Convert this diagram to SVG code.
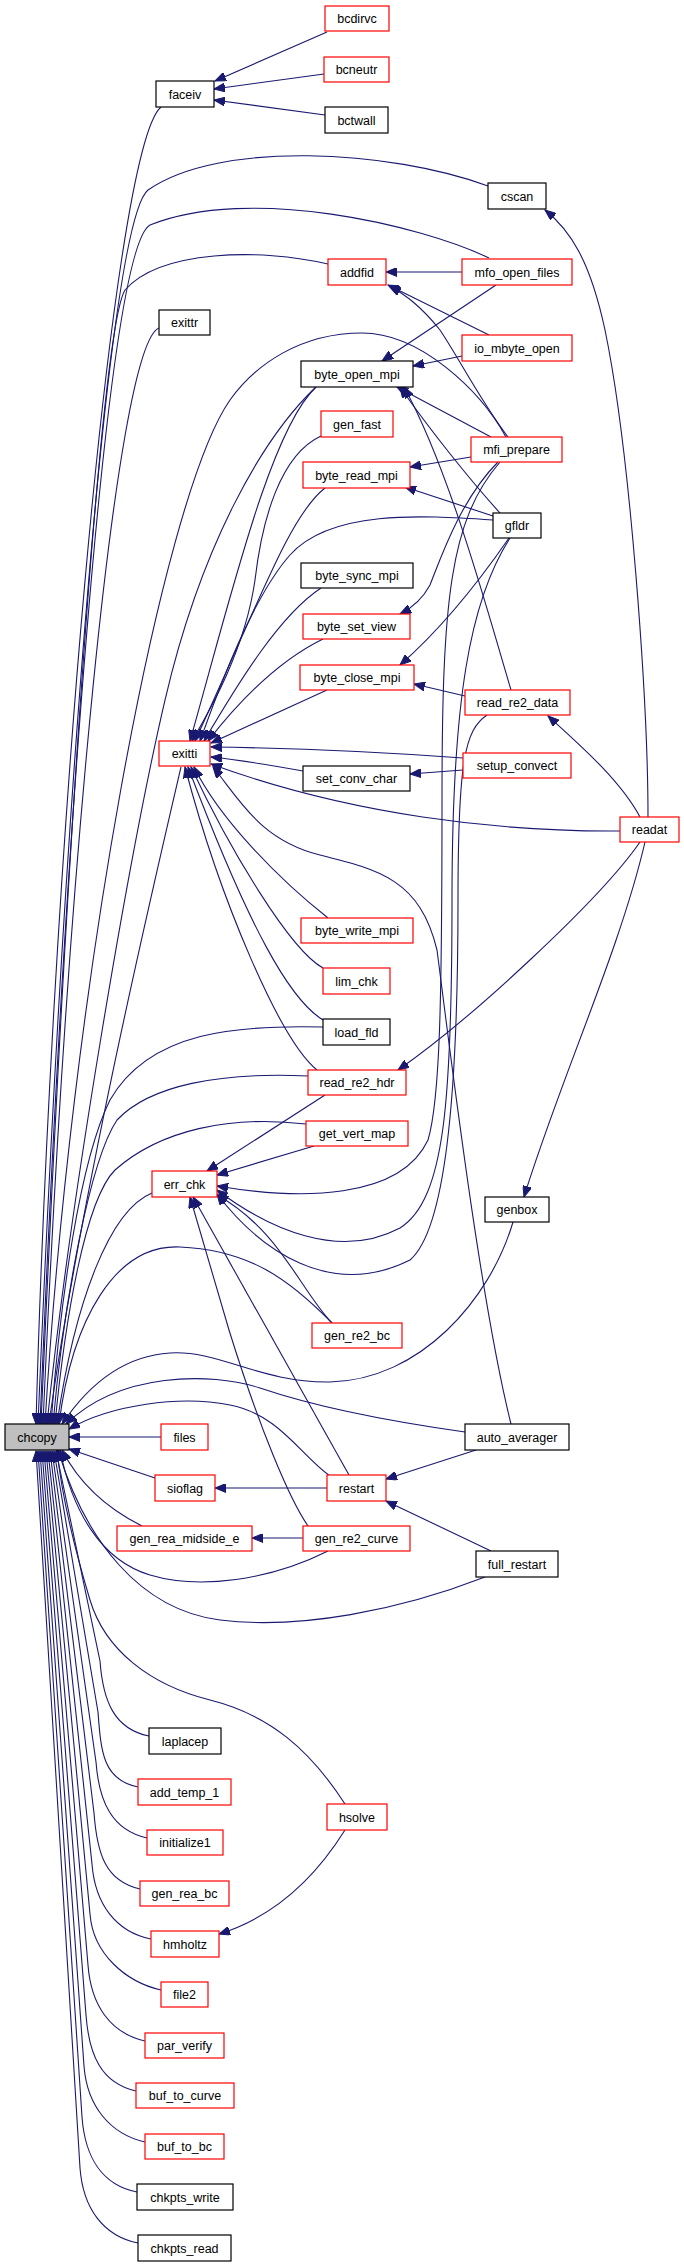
<svg xmlns="http://www.w3.org/2000/svg" width="684" height="2267" viewBox="0 0 684 2267">
<style>
.e{fill:none;stroke:#191970;stroke-width:1.1}
.r{fill:#fff;stroke:#ff0000;stroke-width:1.2}
.k{fill:#fff;stroke:#000;stroke-width:1.2}
.g{fill:#bfbfbf;stroke:#000;stroke-width:1.2}
text{font-family:"Liberation Sans",Arial,sans-serif;font-size:12.5px;fill:#000;text-anchor:middle}
</style>
<defs>
<marker id="ah" markerWidth="12" markerHeight="9" refX="11" refY="4.5" orient="auto" markerUnits="userSpaceOnUse"><path d="M0,0 L11,4.5 L0,9 z" fill="#191970" stroke="#191970"/></marker>
</defs>
<rect width="684" height="2267" fill="#fff"/>
<g id="edges" marker-end="url(#ah)">
<path class="e" marker-end="url(#ah)" d="M327,32 L215,81"/>
<path class="e" marker-end="url(#ah)" d="M324,74 L214,89"/>
<path class="e" marker-end="url(#ah)" d="M325,115 L214,100"/>
<path class="e" marker-end="url(#ah)" d="M161,107 C110,150 50,900 36,1424"/>
<path class="e" marker-end="url(#ah)" d="M488,186 C390,150 220,140 148,190 C105,225 60,900 38,1424"/>
<path class="e" marker-end="url(#ah)" d="M648,817 C648,700 630,450 605,330 C590,260 570,230 545,210"/>
<path class="e" marker-end="url(#ah)" d="M489,258 C420,225 250,185 150,225 C105,250 62,900 40,1424"/>
<path class="e" marker-end="url(#ah)" d="M462,272 L386,272"/>
<path class="e" marker-end="url(#ah)" d="M328,264 C260,248 160,250 125,290 C100,330 64,900 41,1424"/>
<path class="e" marker-end="url(#ah)" d="M496,285 L382,361"/>
<path class="e" marker-end="url(#ah)" d="M489,335 L388,285"/>
<path class="e" marker-end="url(#ah)" d="M508,437 C480,400 460,360 440,330 C420,305 405,295 390,286"/>
<path class="e" marker-end="url(#ah)" d="M159,328 C115,345 66,900 43,1424"/>
<path class="e" marker-end="url(#ah)" d="M462,356 L413,366"/>
<path class="e" marker-end="url(#ah)" d="M506,437 C480,390 420,333 362,333 C300,333 255,365 230,400 C160,500 70,1000 45,1424"/>
<path class="e" marker-end="url(#ah)" d="M316,387 C260,440 200,550 165,700 C130,850 70,1200 47,1424"/>
<path class="e" marker-end="url(#ah)" d="M316,387 C270,430 230,600 190,741"/>
<path class="e" marker-end="url(#ah)" d="M491,437 L397,387"/>
<path class="e" marker-end="url(#ah)" d="M500,513 C470,480 430,430 400,387"/>
<path class="e" marker-end="url(#ah)" d="M511,690 C490,620 450,470 404,387"/>
<path class="e" marker-end="url(#ah)" d="M471,457 L410,467"/>
<path class="e" marker-end="url(#ah)" d="M493,516 L405,487"/>
<path class="e" marker-end="url(#ah)" d="M321,436 C280,455 262,520 255,580 C245,650 210,710 192,741"/>
<path class="e" marker-end="url(#ah)" d="M325,488 C290,515 260,600 195,741"/>
<path class="e" marker-end="url(#ah)" d="M493,520 C420,515 330,510 290,555 C250,600 215,700 200,741"/>
<path class="e" marker-end="url(#ah)" d="M321,588 C280,615 240,680 204,741"/>
<path class="e" marker-end="url(#ah)" d="M323,639 C280,660 240,700 208,741"/>
<path class="e" marker-end="url(#ah)" d="M327,690 L211,743"/>
<path class="e" marker-end="url(#ah)" d="M498,462 C460,500 440,560 430,585 C422,600 412,608 400,614"/>
<path class="e" marker-end="url(#ah)" d="M509,538 C480,580 440,630 400,665"/>
<path class="e" marker-end="url(#ah)" d="M465,696 L414,684"/>
<path class="e" marker-end="url(#ah)" d="M640,817 C620,780 580,745 548,716"/>
<path class="e" marker-end="url(#ah)" d="M463,758 C380,752 290,748 211,747"/>
<path class="e" marker-end="url(#ah)" d="M303,771 C270,765 240,760 211,757"/>
<path class="e" marker-end="url(#ah)" d="M463,770 L410,774"/>
<path class="e" marker-end="url(#ah)" d="M620,831 C500,832 350,815 211,764"/>
<path class="e" marker-end="url(#ah)" d="M328,918 C280,880 220,820 194,767"/>
<path class="e" marker-end="url(#ah)" d="M323,968 C290,950 230,850 191,767"/>
<path class="e" marker-end="url(#ah)" d="M323,1020 C290,1000 250,930 188,767"/>
<path class="e" marker-end="url(#ah)" d="M317,1070 C280,1040 220,900 185,767"/>
<path class="e" marker-end="url(#ah)" d="M181,767 C150,900 80,1200 49,1424"/>
<path class="e" marker-end="url(#ah)" d="M511,1424 C480,1300 450,1050 437,950 C420,880 380,870 320,855 C260,840 240,800 213,767"/>
<path class="e" marker-end="url(#ah)" d="M640,842 C600,900 470,1020 398,1070"/>
<path class="e" marker-end="url(#ah)" d="M645,842 C620,950 560,1080 524,1197"/>
<path class="e" marker-end="url(#ah)" d="M323,1027 C240,1025 150,1030 110,1100 C80,1160 60,1300 51,1424"/>
<path class="e" marker-end="url(#ah)" d="M308,1076 C220,1072 150,1085 117,1120 C90,1160 64,1300 53,1424"/>
<path class="e" marker-end="url(#ah)" d="M306,1124 C230,1115 160,1130 115,1170 C85,1200 65,1320 55,1424"/>
<path class="e" marker-end="url(#ah)" d="M325,1095 L207,1171"/>
<path class="e" marker-end="url(#ah)" d="M314,1146 L217,1175"/>
<path class="e" marker-end="url(#ah)" d="M332,1323 C300,1290 280,1230 217,1195"/>
<path class="e" marker-end="url(#ah)" d="M349,1475 L193,1197"/>
<path class="e" marker-end="url(#ah)" d="M308,1526 C290,1500 260,1430 229,1330 L190,1197"/>
<path class="e" marker-end="url(#ah)" d="M500,462 C450,520 442,600 442,800 C442,1000 440,1100 428,1140 C400,1200 300,1200 217,1186"/>
<path class="e" marker-end="url(#ah)" d="M510,538 C470,600 452,700 452,900 C452,1100 445,1200 400,1228 C340,1260 270,1230 217,1190"/>
<path class="e" marker-end="url(#ah)" d="M487,715 C465,730 458,760 458,900 C458,1100 445,1230 410,1260 C330,1300 260,1250 217,1194"/>
<path class="e" marker-end="url(#ah)" d="M152,1193 C110,1210 75,1300 57,1424"/>
<path class="e" marker-end="url(#ah)" d="M332,1323 C290,1280 250,1250 180,1247 C115,1244 72,1320 59,1424"/>
<path class="e" marker-end="url(#ah)" d="M513,1222 C490,1300 420,1380 330,1382 C260,1383 220,1350 170,1353 C120,1356 85,1390 62,1424"/>
<path class="e" marker-end="url(#ah)" d="M465,1432 C380,1420 310,1405 260,1388 C210,1372 120,1372 66,1424"/>
<path class="e" marker-end="url(#ah)" d="M330,1476 C300,1455 280,1415 230,1405 C180,1395 110,1405 69,1429"/>
<path class="e" marker-end="url(#ah)" d="M161,1437 L69,1437"/>
<path class="e" marker-end="url(#ah)" d="M155,1478 L69,1449"/>
<path class="e" marker-end="url(#ah)" d="M327,1488 L215,1488"/>
<path class="e" marker-end="url(#ah)" d="M476,1450 L386,1479"/>
<path class="e" marker-end="url(#ah)" d="M491,1551 L386,1501"/>
<path class="e" marker-end="url(#ah)" d="M303,1538 L252,1538"/>
<path class="e" marker-end="url(#ah)" d="M142,1526 C110,1510 80,1485 62,1450"/>
<path class="e" marker-end="url(#ah)" d="M328,1551 C270,1580 200,1590 150,1575 C100,1560 72,1510 60,1450"/>
<path class="e" marker-end="url(#ah)" d="M485,1577 C400,1610 300,1630 220,1620 C140,1610 85,1540 58,1450"/>
<path class="e" marker-end="url(#ah)" d="M345,1804 C310,1750 270,1715 210,1700 C150,1685 105,1650 90,1600 C75,1550 62,1500 57,1450"/>
<path class="e" marker-end="url(#ah)" d="M345,1830 C320,1870 280,1915 219,1934"/>
<path class="e" marker-end="url(#ah)" d="M149,1736 C114,1729 103,1701 100,1661 L56,1451"/>
<path class="e" marker-end="url(#ah)" d="M138,1787 C103,1780 101,1752 98,1712 L54,1451"/>
<path class="e" marker-end="url(#ah)" d="M147,1838 C112,1830 99,1802 96,1762 L52,1451"/>
<path class="e" marker-end="url(#ah)" d="M140,1889 C105,1881 97,1853 94,1813 L50,1451"/>
<path class="e" marker-end="url(#ah)" d="M151,1939 C116,1932 95,1904 92,1864 L48,1451"/>
<path class="e" marker-end="url(#ah)" d="M161,1990 C126,1982 93,1954 90,1914 L46,1451"/>
<path class="e" marker-end="url(#ah)" d="M145,2041 C110,2033 91,2005 88,1965 L44,1451"/>
<path class="e" marker-end="url(#ah)" d="M136,2091 C101,2083 89,2055 86,2015 L42,1451"/>
<path class="e" marker-end="url(#ah)" d="M145,2142 C110,2134 87,2106 84,2066 L40,1451"/>
<path class="e" marker-end="url(#ah)" d="M137,2192 C102,2185 85,2157 82,2117 L38,1451"/>
<path class="e" marker-end="url(#ah)" d="M138,2243 C103,2236 83,2208 80,2168 L36,1451"/>
</g>
<g id="n-bcdirvc"><rect class="r" x="325" y="6" width="64" height="25"/><text x="357" y="23">bcdirvc</text></g>
<g id="n-bcneutr"><rect class="r" x="324" y="57" width="65" height="25"/><text x="356.5" y="74">bcneutr</text></g>
<g id="n-faceiv"><rect class="k" x="156" y="81" width="58" height="26"/><text x="185" y="98.5">faceiv</text></g>
<g id="n-bctwall"><rect class="k" x="325" y="107" width="63" height="26"/><text x="356.5" y="124.5">bctwall</text></g>
<g id="n-cscan"><rect class="k" x="488" y="183" width="58" height="26"/><text x="517" y="200.5">cscan</text></g>
<g id="n-addfid"><rect class="r" x="328" y="259" width="58" height="26"/><text x="357" y="276.5">addfid</text></g>
<g id="n-mfo_open_files"><rect class="r" x="462" y="259" width="110" height="26"/><text x="517" y="276.5">mfo_open_files</text></g>
<g id="n-exittr"><rect class="k" x="159" y="310" width="51" height="25"/><text x="184.5" y="327">exittr</text></g>
<g id="n-io_mbyte_open"><rect class="r" x="462" y="335" width="110" height="26"/><text x="517" y="352.5">io_mbyte_open</text></g>
<g id="n-byte_open_mpi"><rect class="k" x="301" y="361" width="112" height="26"/><text x="357" y="378.5">byte_open_mpi</text></g>
<g id="n-gen_fast"><rect class="r" x="321" y="411" width="72" height="26"/><text x="357" y="428.5">gen_fast</text></g>
<g id="n-mfi_prepare"><rect class="r" x="471" y="437" width="91" height="25"/><text x="516.5" y="454">mfi_prepare</text></g>
<g id="n-byte_read_mpi"><rect class="r" x="303" y="462" width="107" height="26"/><text x="356.5" y="479.5">byte_read_mpi</text></g>
<g id="n-gfldr"><rect class="k" x="493" y="513" width="48" height="25"/><text x="517" y="530">gfldr</text></g>
<g id="n-byte_sync_mpi"><rect class="k" x="301" y="563" width="112" height="25"/><text x="357" y="580">byte_sync_mpi</text></g>
<g id="n-byte_set_view"><rect class="r" x="303" y="614" width="107" height="25"/><text x="356.5" y="631">byte_set_view</text></g>
<g id="n-byte_close_mpi"><rect class="r" x="300" y="665" width="114" height="25"/><text x="357" y="682">byte_close_mpi</text></g>
<g id="n-read_re2_data"><rect class="r" x="465" y="690" width="105" height="25"/><text x="517.5" y="707">read_re2_data</text></g>
<g id="n-exitti"><rect class="r" x="159" y="741" width="51" height="25"/><text x="184.5" y="758">exitti</text></g>
<g id="n-setup_convect"><rect class="r" x="463" y="753" width="108" height="25"/><text x="517" y="770">setup_convect</text></g>
<g id="n-set_conv_char"><rect class="k" x="303" y="766" width="107" height="25"/><text x="356.5" y="783">set_conv_char</text></g>
<g id="n-readat"><rect class="r" x="620" y="817" width="59" height="25"/><text x="649.5" y="834">readat</text></g>
<g id="n-byte_write_mpi"><rect class="r" x="301" y="918" width="112" height="25"/><text x="357" y="935">byte_write_mpi</text></g>
<g id="n-lim_chk"><rect class="r" x="323" y="968" width="67" height="26"/><text x="356.5" y="985.5">lim_chk</text></g>
<g id="n-load_fld"><rect class="k" x="323" y="1019" width="67" height="26"/><text x="356.5" y="1036.5">load_fld</text></g>
<g id="n-read_re2_hdr"><rect class="r" x="308" y="1070" width="98" height="25"/><text x="357" y="1087">read_re2_hdr</text></g>
<g id="n-get_vert_map"><rect class="r" x="306" y="1121" width="102" height="25"/><text x="357" y="1138">get_vert_map</text></g>
<g id="n-err_chk"><rect class="r" x="152" y="1171" width="65" height="26"/><text x="184.5" y="1188.5">err_chk</text></g>
<g id="n-genbox"><rect class="k" x="485" y="1197" width="64" height="25"/><text x="517" y="1214">genbox</text></g>
<g id="n-gen_re2_bc"><rect class="r" x="312" y="1323" width="90" height="25"/><text x="357" y="1340">gen_re2_bc</text></g>
<g id="n-chcopy"><rect class="g" x="5" y="1424" width="64" height="26"/><text x="37" y="1441.5">chcopy</text></g>
<g id="n-files"><rect class="r" x="161" y="1424" width="47" height="26"/><text x="184.5" y="1441.5">files</text></g>
<g id="n-auto_averager"><rect class="k" x="465" y="1424" width="104" height="26"/><text x="517" y="1441.5">auto_averager</text></g>
<g id="n-sioflag"><rect class="r" x="155" y="1475" width="60" height="26"/><text x="185" y="1492.5">sioflag</text></g>
<g id="n-restart"><rect class="r" x="327" y="1475" width="59" height="26"/><text x="356.5" y="1492.5">restart</text></g>
<g id="n-gen_rea_midside_e"><rect class="r" x="117" y="1526" width="135" height="25"/><text x="184.5" y="1543">gen_rea_midside_e</text></g>
<g id="n-gen_re2_curve"><rect class="r" x="303" y="1526" width="107" height="25"/><text x="356.5" y="1543">gen_re2_curve</text></g>
<g id="n-full_restart"><rect class="k" x="476" y="1551" width="82" height="26"/><text x="517" y="1568.5">full_restart</text></g>
<g id="n-laplacep"><rect class="k" x="149" y="1728" width="72" height="26"/><text x="185" y="1745.5">laplacep</text></g>
<g id="n-add_temp_1"><rect class="r" x="138" y="1779" width="93" height="26"/><text x="184.5" y="1796.5">add_temp_1</text></g>
<g id="n-hsolve"><rect class="r" x="327" y="1804" width="60" height="26"/><text x="357" y="1821.5">hsolve</text></g>
<g id="n-initialize1"><rect class="r" x="147" y="1830" width="76" height="25"/><text x="185" y="1847">initialize1</text></g>
<g id="n-gen_rea_bc"><rect class="r" x="140" y="1881" width="89" height="25"/><text x="184.5" y="1898">gen_rea_bc</text></g>
<g id="n-hmholtz"><rect class="r" x="151" y="1931" width="68" height="26"/><text x="185" y="1948.5">hmholtz</text></g>
<g id="n-file2"><rect class="r" x="161" y="1982" width="47" height="25"/><text x="184.5" y="1999">file2</text></g>
<g id="n-par_verify"><rect class="r" x="145" y="2033" width="79" height="25"/><text x="184.5" y="2050">par_verify</text></g>
<g id="n-buf_to_curve"><rect class="r" x="136" y="2083" width="98" height="25"/><text x="185" y="2100">buf_to_curve</text></g>
<g id="n-buf_to_bc"><rect class="r" x="145" y="2134" width="79" height="25"/><text x="184.5" y="2151">buf_to_bc</text></g>
<g id="n-chkpts_write"><rect class="k" x="137" y="2184" width="96" height="26"/><text x="185" y="2201.5">chkpts_write</text></g>
<g id="n-chkpts_read"><rect class="k" x="138" y="2235" width="93" height="26"/><text x="184.5" y="2252.5">chkpts_read</text></g>
</svg>
